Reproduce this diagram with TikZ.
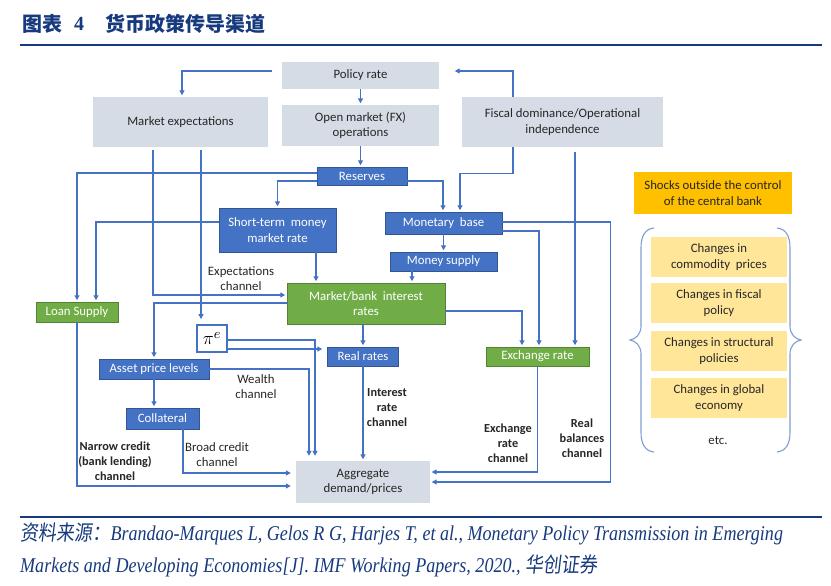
\documentclass[tikz,border=0pt]{standalone}
\usepackage{fontspec}
\usetikzlibrary{arrows.meta,calc}
\newfontfamily\diagfont{Carlito}
\newfontfamily\cjkfont{Noto Sans CJK SC}
\newfontfamily\footlat{Liberation Serif}[FakeStretch=0.86]
\newfontfamily\footcjk{Noto Sans CJK SC}[FakeStretch=0.86,FakeSlant=0.12]
\newfontfamily\titlenum{Liberation Serif}
\definecolor{boxgray}{HTML}{D6DCE5}
\definecolor{boxblue}{HTML}{4472C4}
\definecolor{boxgreen}{HTML}{70AD47}
\definecolor{boxgold}{HTML}{FFC000}
\definecolor{boxyellow}{HTML}{FFE699}
\definecolor{lineblue}{HTML}{4472C4}
\definecolor{bracecol}{HTML}{7F9DD3}
\definecolor{navy}{HTML}{163A7D}
\definecolor{txt}{HTML}{262626}
\tikzset{
  base/.style={inner sep=0pt, align=center, font=\diagfont\fontsize{12.8}{15.5}\selectfont},
  graybox/.style={base, fill=boxgray, text=txt},
  bluebox/.style={base, fill=boxblue, draw=boxblue!75!black, line width=0.5pt, text=white},
  greenbox/.style={base, fill=boxgreen, draw=boxgreen!75!black, line width=0.5pt, text=white},
  goldbox/.style={base, fill=boxgold, text=txt},
  yelbox/.style={base, fill=boxyellow, text=txt, minimum width=136pt, minimum height=40pt},
  lbl/.style={base, text=txt},
  blbl/.style={base, text=txt, font=\diagfont\bfseries\fontsize{12.3}{15}\selectfont},
  arr/.style={draw=lineblue, line width=1.2pt, -{Triangle[length=5pt,width=5pt]}, shorten >=1.5pt},
  arrg/.style={arr, shorten >=5pt},
}
\begin{document}
\begin{tikzpicture}[x=1pt,y=-1pt]
\fill[white] (0,0) rectangle (831,586);
\useasboundingbox (0,0) rectangle (831,586);

% title
\node[anchor=west, inner sep=0, text=navy, font=\cjkfont\bfseries\fontsize{20}{24}\selectfont] (t1) at (22,24) {图表};
\node[anchor=west, inner sep=0, text=navy, font=\titlenum\bfseries\fontsize{20}{24}\selectfont] (t2) at (74,24) {4};
\node[anchor=west, inner sep=0, text=navy, font=\cjkfont\bfseries\fontsize{20}{24}\selectfont] (t3) at (105,24) {货币政策传导渠道};
\draw[navy, line width=2.2pt] (20,45) -- (822,45);

% boxes
\node[graybox, minimum width=157pt, minimum height=27pt] (pol) at (360.5,75.5) {Policy rate};
\node[graybox, minimum width=175pt, minimum height=50pt] (mexp) at (180.5,122) {Market expectations};
\node[graybox, minimum width=157pt, minimum height=41pt] (omo) at (360.5,125.5) {Open market (FX)\\operations};
\node[graybox, minimum width=201pt, minimum height=50pt] (fis) at (562.5,122) {Fiscal dominance/Operational\\independence};
\node[bluebox, minimum width=90pt, minimum height=18pt] (res) at (362,176) {Reserves};
\node[bluebox, minimum width=117pt, minimum height=44pt] (stm) at (277.5,230) {Short-term\ \ money\\market rate};
\node[bluebox, minimum width=117pt, minimum height=22pt] (mb) at (443.5,223) {Monetary\ \ base};
\node[bluebox, minimum width=107pt, minimum height=19pt] (ms) at (443.5,261.5) {Money supply};
\node[greenbox, minimum width=158pt, minimum height=41pt] (mbir) at (366,303.5) {Market/bank\ \ interest\\rates};
\node[greenbox, minimum width=82pt, minimum height=20pt] (loan) at (77,312) {Loan Supply};
\node[base, draw=boxblue, line width=1.8pt, fill=white, minimum width=30pt, minimum height=27pt] (pie) at (212,338.5) {\scalebox{1.55}{$\pi^{e}$}};
\node[bluebox, minimum width=71pt, minimum height=19pt] (rr) at (363,356.5) {Real rates};
\node[greenbox, minimum width=103pt, minimum height=19pt] (ex) at (537.5,356.5) {Exchange rate};
\node[bluebox, minimum width=110pt, minimum height=20pt] (apl) at (154,369) {Asset price levels};
\node[bluebox, minimum width=73pt, minimum height=21pt] (col) at (162.5,418.5) {Collateral};
\node[graybox, minimum width=134pt, minimum height=42pt] (agg) at (363,482) {Aggregate\\demand/prices};

\node[goldbox, minimum width=158pt, minimum height=42pt] (shock) at (713,193) {Shocks outside the control\\of the central bank};
\node[yelbox] (y1) at (719,257) {Changes in\\commodity\ \ prices};
\node[yelbox] (y2) at (719,303) {Changes in fiscal\\policy};
\node[yelbox] (y3) at (719,351) {Changes in structural\\policies};
\node[yelbox] (y4) at (719,398) {Changes in global\\economy};
\node[lbl] (etc) at (718,441) {etc.};

% braces
\draw[bracecol, line width=1.1pt] (654,228) .. controls (645,229) and (641,236) .. (641,248) -- (641,326) .. controls (641,334) and (636,339) .. (630,340) .. controls (636,341) and (641,346) .. (641,354) -- (641,432) .. controls (641,444) and (645,451) .. (654,452);
\draw[bracecol, line width=1.1pt] (777,228) .. controls (786,229) and (790,236) .. (790,248) -- (790,326) .. controls (790,334) and (795,339) .. (801,340) .. controls (795,341) and (790,346) .. (790,354) -- (790,432) .. controls (790,444) and (786,451) .. (777,452);

% labels
\node[lbl] (l1) at (241,278.5) {Expectations\\channel};
\node[lbl] (l2) at (256,386.5) {Wealth\\channel};
\node[lbl] (l3) at (217,454.5) {Broad credit\\channel};
\node[blbl] (l4) at (115,461.5) {Narrow credit\\(bank lending)\\channel};
\node[blbl] (l5) at (387,408) {Interest\\rate\\channel};
\node[blbl] (l6) at (508,443) {Exchange\\rate\\channel};
\node[blbl] (l7) at (582,438.5) {Real\\balances\\channel};

% connectors
\coordinate (a1) at ([shift={(-10pt,4.5pt)}]pol.west);
\draw[arr] (a1) -| ([xshift=1.5pt]mexp.north);
\draw[arr] (pol.south) -- (omo.north);
\draw[arr] ([xshift=-49.5pt]fis.north) |- ([shift={(14pt,4.5pt)}]pol.east);
\draw[arr] (omo.south) -- (omo.south |- res.north);
\draw[arr] ([yshift=3pt]res.west) -| (loan.north);
\draw[arr] ([xshift=-27.5pt,yshift=-3pt]mexp.south) |- ([yshift=8.5pt]mbir.west);
\coordinate (a7) at ([xshift=20.5pt,yshift=-3pt]mexp.south);
\draw[arrg] (a7) -- (a7 |- pie.north);
\draw[arr] ([yshift=-5pt]res.west) -| (stm.north);
\draw[arr] ([yshift=-5pt]res.east) -| ([xshift=-0.5pt]mb.north);
\draw[arr] ([xshift=-49.5pt]fis.south) -- ++(0,26) -| ([xshift=16.5pt]mb.north);
\coordinate (a11) at ([xshift=12.5pt,yshift=-5pt]fis.south);
\draw[arr] (a11) -- (a11 |- ex.north);
\draw[arr] ([yshift=8pt]stm.west) -| ([xshift=19pt]loan.north);
\coordinate (a13) at ([xshift=38.5pt]stm.south);
\draw[arr] (a13) -- (a13 |- mbir.north);
\draw[arr] (mb.south) -- (ms.north);
\coordinate (a15) at ([xshift=-31.5pt]ms.south);
\draw[arr] (a15) -- (a15 |- mbir.north);
\draw[arr] ([yshift=-8pt]mb.east) -| ([xshift=1.5pt]ex.north);
\draw[arr] ([yshift=1pt]mb.east) -- ++(108,0) |- (agg.east);
\draw[arr] (ex.south) |- ([yshift=10pt]agg.east);
\draw[arr] ([yshift=-7.5pt]mbir.east) -| ([xshift=-15.5pt]ex.north);
\draw[arr] (mbir.south -| rr.north) -- (rr.north);
\draw[arr] ([yshift=0.5pt]mbir.west) -| (apl.north);
\draw[arrg] ([yshift=-1.5pt]pie.east) -| ([xshift=-48pt]agg.north);
\coordinate (a23) at ([yshift=-10.5pt]pie.east);
\draw[arrg] (a23) -- (a23 -| rr.west);
\draw[arrg] (apl.east) -| ([xshift=-54pt]agg.north);
\draw[arr] (rr.south) -- (rr.south |- agg.north);
\draw[arr] (apl.south) -- (apl.south |- col.north);
\draw[arrg] ([xshift=20.5pt]col.south) |- ([yshift=9pt]agg.west);
\draw[arrg] (loan.south) |- ([yshift=-4pt]agg.west);

% footnote
\draw[navy, line width=2.2pt] (20,517) -- (822,517);
\node[anchor=base west, inner sep=0, text=navy, font=\fontsize{21}{32}\selectfont] (f1) at (20,540) {{\footcjk 资料来源：}{\footlat\itshape Brandao-Marques L, Gelos R G, Harjes T, et al., Monetary Policy Transmission in Emerging}};
\node[anchor=base west, inner sep=0, text=navy, font=\fontsize{21}{32}\selectfont] (f2) at (20,572) {{\footlat\itshape Markets and Developing Economies[J]. IMF Working Papers, 2020.,\ }{\footcjk 华创证券}};
\end{tikzpicture}
\end{document}
